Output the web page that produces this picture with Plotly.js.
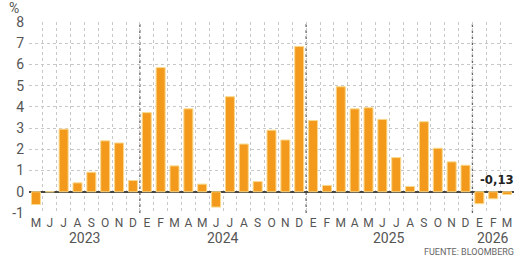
<!DOCTYPE html>
<html>
<head>
<meta charset="utf-8">
<script src="https://cdn.plot.ly/plotly-3.0.1.min.js"></script>
<style>
html,body{margin:0;padding:0;background:#fff;}
#chart{width:517px;height:256px;}
</style>
</head>
<body>
<div id="chart"></div>
<script>
// Month labels (May 2023 – Mar 2026)
const months = ["M","J","J","A","S","O","N","D",
  "E","F","M","A","M","J","J","A","S","O","N","D",
  "E","F","M","A","M","J","J","A","S","O","N","D",
  "E","F","M"];
// Monthly change, %
const values = [-0.6, 0.0, 2.95, 0.42, 0.92, 2.4, 2.3, 0.53,
  3.73, 5.85, 1.22, 3.91, 0.36, -0.72, 4.48, 2.25, 0.48, 2.9, 2.44, 6.85,
  3.36, 0.3, 4.95, 3.91, 3.96, 3.41, 1.61, 0.25, 3.3, 2.05, 1.41, 1.25,
  -0.56, -0.33, -0.13];
// Years and number of months shown in each
const years = ["2023", "2024", "2025", "2026"];
const monthsPerYear = [8, 12, 12, 3];
const yTicks = [-1, 0, 1, 2, 3, 4, 5, 6, 7, 8];
const lastLabel = "-0,13";
const source = "FUENTE: BLOOMBERG";

const idx = values.map((_, i) => i);
const n = values.length;

const gray = "#555";
const fontFam = "Roboto, 'Liberation Sans', sans-serif";
const shapes = [];
const annotations = [];
let start = 0;
years.forEach((y, k) => {
  const cnt = monthsPerYear[k];
  annotations.push({
    x: start + (cnt - 1) / 2, xref: "x", y: 0, yref: "paper", yanchor: "top", yshift: -15,
    text: y, showarrow: false,
    font: {family: fontFam, size: 14, color: gray}
  });
  if (k > 0) {
    shapes.push({type: "line", xref: "x", yref: "y", x0: start - 0.5, x1: start - 0.5,
      y0: yTicks[0], y1: yTicks[yTicks.length - 1],
      line: {color: "#666", width: 1.3, dash: "dot"}, layer: "below"});
  }
  start += cnt;
});
annotations.push({
  x: 1, xref: "paper", y: values[n - 1], yref: "y", yshift: 15, xanchor: "right", xshift: 2,
  text: "<b>" + lastLabel + "</b>", showarrow: false,
  font: {family: "'DejaVu Sans Condensed', 'DejaVu Sans', sans-serif", size: 13, color: "#222"}
});
annotations.push({
  x: 1, xref: "paper", y: 0, yref: "paper", xanchor: "right", yanchor: "top", yshift: -32, xshift: 2,
  text: source, showarrow: false,
  font: {family: fontFam, size: 9, color: "#666"}
});
annotations.push({
  x: 0, xref: "paper", y: 1, yref: "paper", xanchor: "right", yanchor: "bottom", xshift: -8, yshift: 4,
  text: "%", showarrow: false,
  font: {family: fontFam, size: 14, color: gray}
});

const gridPos = [];
for (let i = 0; i <= n; i++) gridPos.push(i - 0.5);

const data = [
  {type: "bar", x: idx, y: values, xaxis: "x", yaxis: "y",
   marker: {color: "#F39A1D", line: {color: "#F9D98C", width: 1}},
   hoverinfo: "skip"},
  {type: "scatter", x: gridPos, y: gridPos.map(() => null), xaxis: "x2", yaxis: "y",
   mode: "markers", showlegend: false, hoverinfo: "skip"}
];

const layout = {
  width: 517, height: 256,
  margin: {l: 29, r: 3, t: 22, b: 43},
  paper_bgcolor: "#fff", plot_bgcolor: "#fff",
  showlegend: false,
  bargap: 0.35,
  xaxis: {
    range: [-0.5, n - 0.5], tickvals: idx, ticktext: months,
    showgrid: false, zeroline: false, showline: false, ticks: "",
    tickfont: {family: fontFam, size: 12, color: gray},
    ticklabelstandoff: 1, fixedrange: true
  },
  xaxis2: {
    overlaying: "x", range: [-0.5, n - 0.5], tickvals: gridPos, showticklabels: false,
    showgrid: true, gridcolor: "#c8c8c8", gridwidth: 1, griddash: "dot",
    zeroline: false, showline: false, ticks: "", layer: "below traces"
  },
  yaxis: {
    range: [yTicks[0], yTicks[yTicks.length - 1]], tickvals: yTicks,
    ticktext: yTicks.map(String),
    showgrid: true, gridcolor: "#c8c8c8", gridwidth: 1, griddash: "dot",
    zeroline: true, zerolinecolor: "#444", zerolinewidth: 2,
    showline: false, ticks: "",
    tickfont: {family: fontFam, size: 14, color: gray},
    ticklabelstandoff: 4, fixedrange: true
  },
  shapes: shapes,
  annotations: annotations
};

Plotly.newPlot("chart", data, layout, {staticPlot: true, displayModeBar: false});
</script>
</body>
</html>
